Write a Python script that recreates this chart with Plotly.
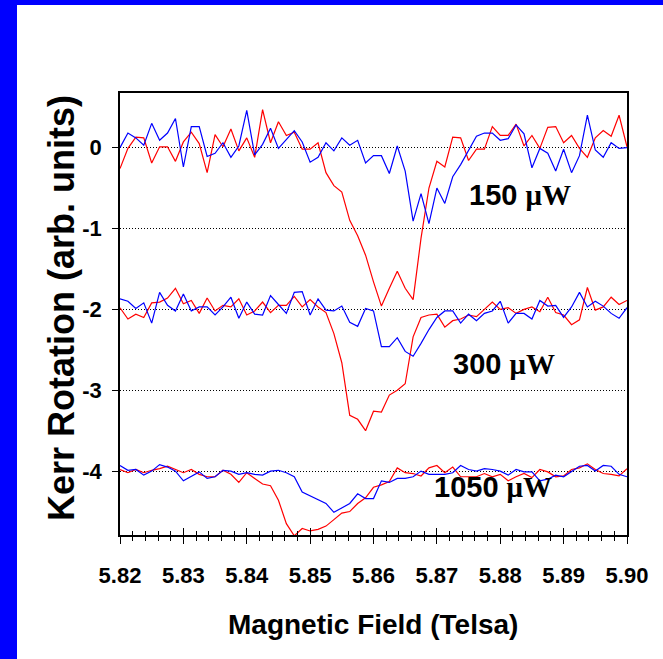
import plotly.graph_objects as go

# Magnetic field sweep (Tesla)
field = [
    5.82000, 5.82125, 5.82250, 5.82375, 5.82500, 5.82625, 5.82750, 5.82875,
    5.83000, 5.83125, 5.83250, 5.83375, 5.83500, 5.83625, 5.83750, 5.83875,
    5.84000, 5.84125, 5.84250, 5.84375, 5.84500, 5.84625, 5.84750, 5.84875,
    5.85000, 5.85125, 5.85250, 5.85375, 5.85500, 5.85625, 5.85750, 5.85875,
    5.86000, 5.86125, 5.86250, 5.86375, 5.86500, 5.86625, 5.86750, 5.86875,
    5.87000, 5.87125, 5.87250, 5.87375, 5.87500, 5.87625, 5.87750, 5.87875,
    5.88000, 5.88125, 5.88250, 5.88375, 5.88500, 5.88625, 5.88750, 5.88875,
    5.89000, 5.89125, 5.89250, 5.89375, 5.89500, 5.89625, 5.89750, 5.89875,
    5.90000,
]

# 150 uW (offset 0)
red_150 = [
    -0.26, -0.01, 0.13, 0.12, -0.19, 0.01, 0.01, -0.17, 0.07, 0.19, 0.05, -0.31,
    0.16, 0.01, 0.23, -0.04, 0.12, -0.12, 0.47, 0.06, 0.32, 0.15, 0.19, -0.02,
    -0.02, 0.06, -0.31, -0.47, -0.55, -0.90, -1.09, -1.33, -1.66, -1.96, -1.74,
    -1.53, -1.74, -1.88, -1.12, -0.50, -0.17, -0.24, 0.13, 0.12, -0.16, -0.02,
    -0.02, 0.26, 0.15, 0.15, 0.29, 0.02, 0.15, -0.01, 0.25, 0.26, 0.06, 0.15,
    -0.01, -0.12, 0.12, 0.21, 0.14, 0.40, 0.01,
]
blue_150 = [
    0.00, 0.18, 0.12, 0.03, 0.30, 0.09, 0.18, 0.36, -0.24, 0.26, 0.26, -0.11,
    -0.07, 0.06, -0.12, 0.02, 0.46, -0.09, 0.04, 0.24, -0.01, 0.10, 0.21, 0.07,
    -0.18, -0.12, 0.06, -0.04, 0.12, 0.03, 0.09, -0.19, -0.10, -0.10, -0.32,
    0.02, -0.29, -0.91, -0.57, -0.94, -0.50, -0.69, -0.36, -0.21, -0.03, 0.14,
    0.18, 0.18, 0.09, 0.11, 0.28, 0.17, -0.25, -0.01, -0.07, -0.29, -0.02,
    -0.31, -0.10, 0.40, -0.03, -0.12, 0.06, -0.01, 0.00,
]

# 300 uW (offset -2)
red_300 = [
    -1.98, -2.12, -2.06, -2.10, -1.92, -1.91, -1.86, -1.74, -1.93, -1.89, -2.05,
    -1.86, -2.02, -1.95, -1.97, -1.87, -2.07, -2.02, -1.91, -2.04, -1.95, -1.95,
    -1.84, -1.97, -1.88, -1.97, -2.04, -2.30, -2.66, -3.31, -3.36, -3.50, -3.26,
    -3.27, -3.06, -3.00, -2.92, -2.34, -2.10, -2.07, -2.06, -2.22, -2.14, -2.12,
    -2.07, -2.09, -2.00, -1.91, -2.00, -1.98, -2.05, -2.00, -1.97, -2.03, -1.85,
    -2.04, -2.07, -2.19, -2.13, -1.73, -2.01, -1.97, -1.85, -1.94, -1.89,
]
blue_300 = [
    -1.87, -1.90, -1.99, -1.92, -2.17, -1.79, -1.95, -2.02, -1.81, -2.02, -1.97,
    -1.97, -2.07, -1.97, -1.85, -2.11, -1.91, -2.06, -2.07, -1.83, -1.94, -2.05,
    -1.79, -1.78, -2.07, -1.87, -2.01, -2.02, -1.96, -2.16, -2.21, -1.99, -2.02,
    -2.46, -2.46, -2.35, -2.52, -2.58, -2.42, -2.25, -2.10, -2.02, -2.02, -2.17,
    -2.06, -2.14, -2.05, -2.02, -1.90, -2.17, -2.05, -2.05, -2.12, -1.89, -1.96,
    -1.95, -2.10, -1.97, -1.79, -1.97, -1.90, -1.96, -2.05, -2.11, -1.98,
]

# 1050 uW (offset -4)
red_1050 = [
    -3.98, -4.02, -3.98, -4.02, -3.99, -3.97, -3.94, -3.98, -4.02, -3.98, -4.04,
    -4.07, -4.07, -3.99, -4.04, -4.14, -4.02, -4.09, -4.16, -4.18, -4.36, -4.65,
    -4.80, -4.71, -4.74, -4.72, -4.68, -4.60, -4.52, -4.50, -4.40, -4.33, -4.20,
    -4.17, -4.13, -3.96, -4.02, -4.03, -4.06, -3.96, -3.93, -4.02, -3.95, -4.07,
    -4.07, -4.07, -4.03, -4.07, -4.04, -4.12, -4.07, -4.03, -4.08, -3.98, -4.01,
    -4.07, -4.06, -3.98, -3.96, -3.91, -3.98, -4.03, -4.04, -4.06, -3.97,
]
blue_1050 = [
    -3.93, -3.99, -3.98, -4.05, -4.00, -3.92, -3.95, -4.00, -4.12, -4.07, -4.01,
    -4.09, -4.07, -3.99, -4.00, -4.04, -4.02, -4.04, -4.05, -4.00, -3.99, -4.02,
    -4.07, -4.26, -4.31, -4.36, -4.40, -4.51, -4.45, -4.40, -4.28, -4.34, -4.34,
    -4.12, -4.14, -4.09, -4.09, -4.07, -4.00, -4.04, -4.04, -4.04, -4.02, -3.93,
    -3.98, -4.00, -3.97, -3.98, -4.00, -4.05, -3.98, -4.01, -4.01, -4.12, -4.10,
    -4.05, -4.07, -4.01, -3.94, -3.93, -4.00, -3.93, -3.94, -4.04, -4.07,
]

power_labels = ["150", "300", "1050"]
label_x = [5.8831, 5.8806, 5.8788]
label_y = [-0.58, -2.68, -4.20]

y_ticks = [0, -1, -2, -3, -4]
y_ticktext = ["0", "-1", "-2", "-3", "-4"]
x_ticks = [5.82, 5.83, 5.84, 5.85, 5.86, 5.87, 5.88, 5.89, 5.90]
x_ticktext = ["5.82", "5.83", "5.84", "5.85", "5.86", "5.87", "5.88", "5.89", "5.90"]

RED = "#FF0000"
BLUE = "#0000FF"
SANS = "Liberation Sans, Arial, sans-serif"

fig = go.Figure()
for r, b in [(red_150, blue_150), (red_300, blue_300), (red_1050, blue_1050)]:
    fig.add_trace(go.Scatter(x=field, y=r, mode="lines",
                             line=dict(color=RED, width=1.2), showlegend=False))
    fig.add_trace(go.Scatter(x=field, y=b, mode="lines",
                             line=dict(color=BLUE, width=1.2), showlegend=False))

# empty trace so the overlay axis (inner half of the crossing ticks) is drawn
fig.add_trace(go.Scatter(x=[None], y=[None], xaxis="x2", mode="lines",
                         showlegend=False, hoverinfo="skip"))

for p, lx, ly in zip(power_labels, label_x, label_y):
    fig.add_annotation(
        x=lx, y=ly, xref="x", yref="y", showarrow=False,
        text=f"{p} <span style='font-family:Liberation Serif'>\u03bcW</span>",
        font=dict(family=SANS, size=29, color="black", weight="bold"),
        xanchor="center", yanchor="middle",
    )

# axis titles
fig.add_annotation(
    x=-0.1144, y=0.5136, xref="paper", yref="paper", showarrow=False,
    text="Kerr Rotation (arb. units)", textangle=-90,
    font=dict(family=SANS, size=36, color="black", weight="bold"),
    xanchor="center", yanchor="middle",
)
fig.add_annotation(
    x=0.499, y=-0.2036, xref="paper", yref="paper", showarrow=False,
    text="Magnetic Field (Telsa)",
    font=dict(family=SANS, size=28, color="black", weight="bold"),
    xanchor="center", yanchor="middle",
)

# blue frame around the page
frame = dict(type="rect", xref="paper", yref="paper", fillcolor=BLUE,
             line=dict(width=0), layer="above")
fig.add_shape(**frame, x0=-0.30, x1=(17 - 120) / 507, y0=-0.40, y1=1.40)
fig.add_shape(**frame, x0=-0.30, x1=1.30, y0=(535 - 5) / 442, y1=1.40)

fig.update_layout(
    width=663, height=659,
    margin=dict(l=120, r=36, t=93, b=124),
    paper_bgcolor="white", plot_bgcolor="white",
    xaxis=dict(
        range=[5.82, 5.90], tickvals=x_ticks, ticktext=x_ticktext,
        ticks="outside", ticklen=7, tickwidth=1, tickcolor="black",
        minor=dict(ticks="outside", dtick=0.002, tick0=5.82, ticklen=4,
                   tickwidth=1, tickcolor="black"),
        showline=True, linecolor="black", linewidth=1.5, mirror=True,
        showgrid=False, zeroline=False, ticklabelstandoff=13,
        tickfont=dict(family=SANS, size=22, color="black", weight="bold"),
    ),
    xaxis2=dict(
        range=[5.82, 5.90], overlaying="x", anchor="y", side="bottom",
        tickvals=x_ticks, ticks="inside", ticklen=7, tickwidth=1,
        tickcolor="black", showticklabels=False,
        minor=dict(ticks="inside", dtick=0.002, tick0=5.82, ticklen=4,
                   tickwidth=1, tickcolor="black"),
        showline=False, showgrid=False, zeroline=False,
    ),
    yaxis=dict(
        range=[-4.79, 0.675], tickvals=y_ticks, ticktext=y_ticktext,
        ticks="outside", ticklen=6, tickwidth=1, tickcolor="black",
        showline=True, linecolor="black", linewidth=1.5, mirror=True,
        showgrid=True, gridcolor="black", gridwidth=1, griddash="1px,2px",
        zeroline=False, ticklabelstandoff=6,
        tickfont=dict(family=SANS, size=22, color="black", weight="bold"),
    ),
)

fig.write_html("out.html")
